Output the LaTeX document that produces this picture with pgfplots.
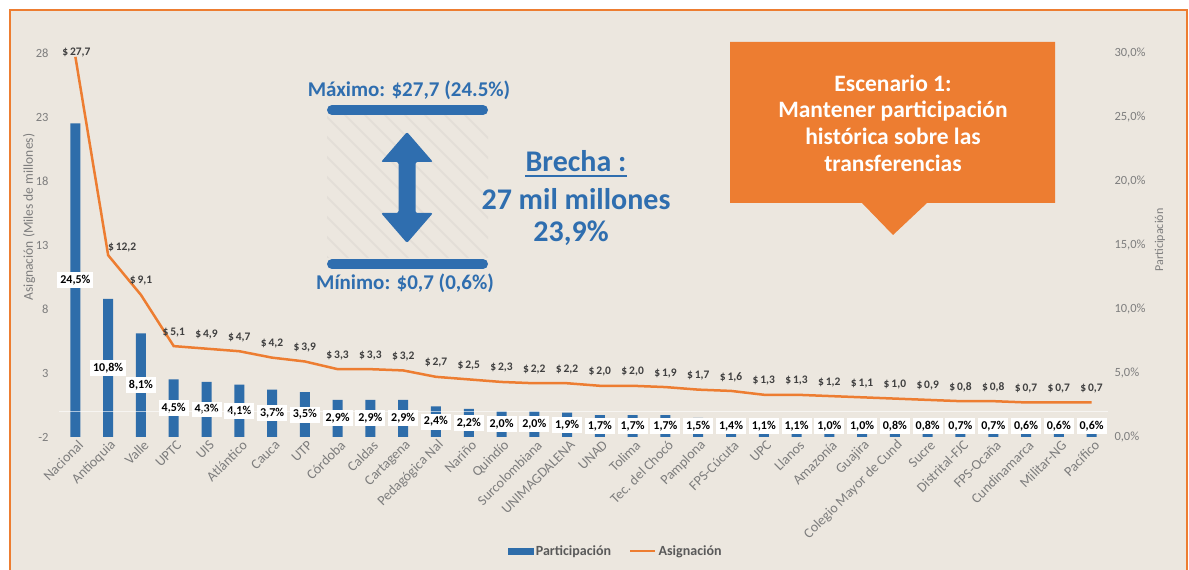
\documentclass[border=0pt]{standalone}
\usepackage{fontspec}
\setmainfont{Carlito}
\usepackage{pgfplots}
\usepackage{pgfplotstable}
\pgfplotsset{compat=1.18}
\definecolor{bg}{RGB}{236,231,223}
\definecolor{barblue}{RGB}{46,109,170}
\definecolor{lineorange}{RGB}{237,125,49}
\definecolor{tickgray}{RGB}{125,125,125}
\definecolor{labgray}{RGB}{64,64,64}
\definecolor{legendgray}{RGB}{89,89,89}
\definecolor{txtblue}{RGB}{47,110,175}
\newcommand{\fs}[1]{\fontsize{#1}{#1}\selectfont}

\pgfplotstableread{
x p a dx dy
0 24.5 27.7 1 4
1 10.8 12.2 14 8
2 8.1 9.1 0 14
3 4.5 5.1 0 14
4 4.3 4.9 0 14
5 4.1 4.7 0 14
6 3.7 4.2 0 14
7 3.5 3.9 0 14
8 2.9 3.3 0 14
9 2.9 3.3 0 14
10 2.9 3.2 0 14
11 2.4 2.7 0 14
12 2.2 2.5 0 14
13 2.0 2.3 0 14
14 2.0 2.2 0 14
15 1.9 2.2 0 14
16 1.7 2.0 0 14
17 1.7 2.0 0 14
18 1.7 1.9 0 14
19 1.5 1.7 0 14
20 1.4 1.6 0 14
21 1.1 1.3 0 14
22 1.1 1.3 0 14
23 1.0 1.2 0 14
24 1.0 1.1 0 14
25 0.8 1.0 0 14
26 0.8 0.9 0 14
27 0.7 0.8 0 14
28 0.7 0.8 0 14
29 0.6 0.7 0 14
30 0.6 0.7 0 14
31 0.6 0.7 0 14
}\data

\pgfplotsset{
  base/.style={
    scale only axis, width=1049pt, height=384pt,
    at={(59pt,133pt)}, anchor=south west,
    xmin=-0.5, xmax=31.5,
    axis line style={draw=none},
    major tick length=0pt,
    tick style={draw=none},
    clip=false,
    /pgf/number format/assume math mode=true,
    yticklabel style={font=\fs{12.5}, text=tickgray},
  }
}

\begin{document}
\begin{tikzpicture}[x=1pt,y=1pt]
\path[use as bounding box] (0,0) rectangle (1189,570);
\fill[white] (0,0) rectangle (1189,570);
\fill[bg] (10,-5) rectangle (1187,560);
% faint hatch
\begin{scope}
\clip (327,312) rectangle (488,455);
\foreach \i in {0,...,14}{
  \draw[gray, opacity=0.08, line width=2pt] ({170+\i*20},470) -- ({170+\i*20+165},305);
}
\end{scope}
\draw[lineorange, line width=2pt] (10,-5) rectangle (1187,560);

% ---- bars on right axis
\begin{axis}[base,
  ymin=0, ymax=30, ytick={0,5,...,30},
  yticklabel pos=right,
  yticklabel={\pgfmathprintnumber[fixed,fixed zerofill,precision=1,use comma]{\tick}\%},
  yticklabel style={xshift=3pt},
  xtick=data,
  xticklabels={Nacional,Antioquia,Valle,UPTC,UIS,Atlántico,Cauca,UTP,Córdoba,Caldas,Cartagena,Pedagógica Nal,Nariño,Quindío,Surcolombiana,UNIMAGDALENA,UNAD,Tolima,Tec. del Chocó,Pamplona,FPS-Cúcuta,UPC,Llanos,Amazonía,Guajira,Colegio Mayor de Cund,Sucre,Distrital-FJC,FPS-Ocaña,Cundinamarca,Militar-NG,Pacífico},
  xticklabel style={rotate=45, anchor=east, font=\fs{14}, text=tickgray, xshift=3pt, yshift=-8pt},
  ylabel={Participación},
  every axis y label/.style={at={(axis description cs:1.0496,0.513)}, rotate=90, anchor=center, font=\fs{12}, text=tickgray},
]
\addplot[ybar, bar width=10pt, fill=barblue, draw=none,
  visualization depends on={(max(\thisrow{p}/2,0.85)-\thisrow{p})*12.8 \as \lshift},
  nodes near coords={\pgfmathprintnumber[fixed,fixed zerofill,precision=1,use comma]{\pgfplotspointmeta}\%},
  every node near coord/.append style={anchor=center, yshift=\lshift pt, fill=white, text=black, font=\fs{12}\bfseries, inner xsep=3pt, inner ysep=3pt},
] table[x=x,y=p]{\data};
\end{axis}

% ---- line on left axis
\begin{axis}[base,
  ymin=-2, ymax=28, ytick={-2,3,...,28},
  yticklabel pos=left,
  yticklabel style={xshift=-7pt},
  xtick=\empty,
  extra y ticks={0}, extra y tick labels={},
  extra y tick style={grid=major, major grid style={white, opacity=0.6, line width=0.8pt}},
  ylabel={Asignación (Miles de millones)},
  every axis y label/.style={at={(axis description cs:-0.0286,0.573)}, rotate=90, anchor=center, font=\fs{13.5}, text=tickgray},
  legend style={at={(axis description cs:0.531,-0.297)}, anchor=center, draw=none, fill=none,
    legend columns=2, font=\fs{14}\bfseries, text=legendgray,
    /tikz/every even column/.append style={column sep=16pt},
    legend cell align=left},
]
\addlegendimage{legend image code/.code={\fill[barblue] (0pt,-3pt) rectangle (25pt,3pt);}}
\addlegendentry{Participación}
\addplot[lineorange, line width=2.5pt, mark=none,
  legend image code/.code={\draw[lineorange,line width=2.5pt] (0pt,0pt) -- (25pt,0pt);},
  visualization depends on={\thisrow{dx}\as\ddx},
  visualization depends on={\thisrow{dy}\as\ddy},
  nodes near coords={\$\,\pgfmathprintnumber[fixed,fixed zerofill,precision=1,use comma]{\pgfplotspointmeta}},
  every node near coord/.append style={anchor=center, xshift=\ddx pt, yshift=\ddy pt, text=labgray, font=\fs{11.5}\bfseries},
] table[x=x,y=a]{\data};
\addlegendentry{Asignación}
\end{axis}

% ---- annotations
\node[anchor=base, text=txtblue, font=\fs{21}\bfseries] at (409,473) {Máximo: \$27,7 (24.5\%)};
\draw[txtblue, line width=10pt, line cap=round] (332,460) -- (483,460);
\draw[txtblue, line width=10pt, line cap=round] (332,306) -- (483,306);
\fill[txtblue, rounded corners=2pt] (407,438) -- (433,408) -- (415.5,408) -- (415.5,357) -- (433,357) -- (407,327) -- (381,357) -- (398.5,357) -- (398.5,408) -- (381,408) -- cycle;
\node[anchor=base, text=txtblue, font=\fs{21}\bfseries] at (405,280) {Mínimo: \$0,7 (0,6\%)};
\node[anchor=base, inner sep=0pt, text=txtblue, font=\fs{30}\bfseries] (br) at (576,398) {Brecha :};
\draw[txtblue, line width=1.8pt] ([yshift=-4pt]br.base west) -- ([yshift=-4pt]br.base east);
\node[anchor=base, text=txtblue, font=\fs{30}\bfseries] at (576,360) {27 mil millones};
\node[anchor=base, text=txtblue, font=\fs{30}\bfseries] at (571,328) {23,9\%};

% callout
\fill[lineorange] (730,528) -- (1055,528) -- (1055,367) -- (927,367) -- (893,335) -- (862,367) -- (730,367) -- cycle;
\node[anchor=base, text=white, font=\fs{23.5}\bfseries] at (893,478) {Escenario 1:};
\node[anchor=base, text=white, font=\fs{23.5}\bfseries] at (893,452) {Mantener participación};
\node[anchor=base, text=white, font=\fs{23.5}\bfseries] at (893,425) {histórica sobre las};
\node[anchor=base, text=white, font=\fs{23.5}\bfseries] at (893,398) {transferencias};
\end{tikzpicture}
\end{document}
